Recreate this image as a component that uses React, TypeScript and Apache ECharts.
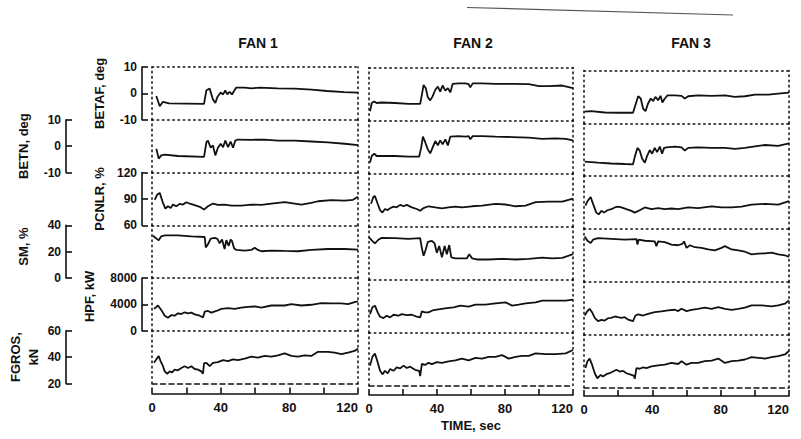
import React, { useEffect, useRef } from 'react';
import * as echarts from 'echarts';

// ---------- data (time in sec, value in axis units) ----------
const fanTitles = ['FAN 1', 'FAN 2', 'FAN 3'];
const timeLabels = [0, 40, 80, 120];

const fan1BETAF: [number, number][] = [[2.5,-1.0],[4.5,-4.9],[6.4,-3.2],[10,-3.8],[20,-3.9],[30.3,-4.0],[31.7,1.2],[33.6,1.8],[35.5,-2.3],[36.9,-3.6],[38.1,-1.4],[40,0.3],[41.4,-0.4],[42.7,1.1],[43.9,-0.4],[45.2,0.6],[46.6,-0.4],[47.8,0.9],[49.1,2.2],[54,2.2],[58,1.9],[63,2.2],[73,1.9],[83,1.8],[93,1.4],[102,0.9],[112,0.5],[120,0.3]];
const fan1BETN: [number, number][] = [[2.5,-1],[3.9,-4.75],[5.4,-3.5],[7.4,-3.25],[15.1,-3.75],[30.3,-4.1],[31.7,1.5],[32.6,2.1],[34.2,-0.6],[35.5,0.25],[36.9,-3.5],[38.4,-0.6],[40,0.9],[41.4,-0.4],[42.7,2.1],[44.3,-0.4],[45.8,1.75],[47.2,-0.6],[48.5,2.1],[50.1,2.5],[57.9,2.4],[65.6,2.5],[73.4,2.1],[83.1,2.1],[92.8,1.75],[102.5,1.4],[112.2,0.9],[120,0.4]];
const fan1PCNLR: [number, number][] = [[1.6,89],[3.1,95],[4.5,96.8],[6.4,85.4],[7.8,79],[9.3,81.6],[10.9,79.7],[12.2,83.5],[14.2,81.6],[16.1,84.3],[18.1,83.5],[20,86.2],[21.9,84.7],[24.9,82.8],[27.8,81],[30.3,77.8],[32.6,81.6],[35.5,84.7],[38.4,83.1],[42.3,83.5],[46.2,82.4],[52,82.4],[57.9,83.5],[63.7,83.1],[69.5,84.7],[77.3,86.2],[83.1,84.7],[87,83.5],[92.8,85.4],[96.7,87.3],[104.5,88.5],[112.2,88.1],[117.1,88.9],[120,92.3]];
const fan1SM: [number, number][] = [[0.6,32],[2.5,30],[3.9,28.7],[5.4,31.6],[7.4,32.3],[15.1,32.3],[22.9,31.6],[30.7,31.1],[31.3,23.2],[32.6,25.6],[34.2,29.9],[36.5,30.4],[38.1,29.7],[39.4,26.3],[40.8,29.2],[42.3,22],[43.3,28.7],[44.7,24.4],[45.8,29.2],[46.6,28],[47.8,22.5],[49.1,21.3],[54,20.8],[57.9,21.3],[59.8,23],[61.7,21.3],[63.7,20.3],[69.5,20.8],[77.3,20.5],[85,20.3],[92.8,21.3],[102.5,22],[112.2,22],[120,21.5]];
const fan1HPF: [number, number][] = [[1.2,3320],[3.5,3830],[5.4,3160],[7.4,2280],[9.3,1970],[11.3,2380],[13.2,2280],[15.1,2640],[17.1,2540],[19,2800],[21,2640],[22.9,2750],[24.9,2490],[27.8,2280],[29.7,2020],[30.7,2900],[32.6,3000],[34.6,2750],[37.5,3000],[40.4,3320],[44.3,3420],[48.2,3320],[52,3520],[55.9,3630],[59.8,3680],[63.7,3520],[69.5,3830],[77.3,3830],[81.2,4040],[87,3830],[92.8,3940],[98.6,4200],[104.5,4140],[110.3,4140],[114.2,4040],[118,4350],[120,4450]];
const fan1FGROS: [number, number][] = [[1.2,35.7],[2.5,38.3],[3.9,40.9],[5,37],[6.4,33.1],[7.4,29.2],[8.9,27.4],[10.3,29.2],[11.7,28.4],[13.2,30.5],[15.1,30],[17.1,31.8],[19,33.1],[21,31.8],[22.9,33.1],[24.9,31],[26.8,30.5],[28.7,29.2],[29.7,27.4],[30.3,35.2],[31.7,35.7],[33.6,33.1],[35.5,35.7],[38.4,36.2],[41.4,37.7],[44.3,37],[47.2,38.3],[50.1,37.7],[54,38.8],[57.9,40.3],[61.7,39.6],[65.6,40.9],[69.5,40.3],[73.4,41.4],[77.3,42.9],[81.2,40.9],[85,40.3],[88.9,41.4],[92.8,40.9],[96.7,44],[102.5,44],[106.4,43.4],[110.3,42.2],[114.2,43.4],[118,44.7],[120,46.6]];

const fan2BETAF: [number, number][] = [[0.6,-6.5],[1.6,-3.4],[3.1,-2.8],[4.5,-3.4],[7.5,-3.2],[15.3,-3.4],[23.2,-3.7],[30.1,-3.7],[31.1,-0.3],[32.1,3.4],[33.4,2.2],[34.6,-1.2],[36,-2.4],[37.4,-0.9],[39,1.6],[40.5,2.8],[41.9,0.9],[43.3,3.2],[44.9,1.3],[46.4,2.2],[47.8,0.6],[49.2,3.8],[52.7,4.0],[56.7,4.0],[58.6,3.7],[59.6,2.5],[61,4.0],[66.5,4.0],[74.4,3.8],[84.2,3.8],[94,3.7],[100,3.0],[105.8,3.0],[113.7,3.2],[120,2.2]];
const fan2BETN: [number, number][] = [[0.6,-5.9],[1.6,-3.4],[3.1,-2.5],[4.5,-3.4],[7.5,-3.4],[15.3,-3.4],[23.2,-3.6],[29.5,-3.6],[30.7,-0.25],[31.7,3.9],[33,1.9],[34.6,-0.9],[36,-2.4],[37.4,-0.25],[39,2.25],[40.5,0.6],[41.9,2.5],[43.3,1],[44.9,2.9],[46.4,0.6],[47.8,3.9],[52.7,4.1],[56.7,3.9],[58.6,4.1],[59.6,2.9],[61,4.1],[66.5,4.1],[74.4,3.9],[84.2,3.75],[94,3.5],[101.9,3.1],[109.8,3.25],[115.7,3.1],[120,2.5]];
const fan2PCNLR: [number, number][] = [[1.2,85.7],[2.6,93.6],[3.5,94.4],[5.1,85.7],[6.5,78.6],[7.9,75.8],[9.4,79.8],[11,78.6],[12.4,80.6],[14.4,82.5],[16.3,81.7],[18.3,84.5],[20.3,82.9],[22.2,84.5],[25.2,81.7],[28.1,79.8],[30.1,77.8],[32.1,80.9],[35,82.9],[39,81.7],[42.9,80.6],[46.8,81.7],[50.8,82.5],[54.7,81.7],[60.6,82.9],[66.5,83.7],[74.4,85.7],[80.3,84.9],[86.2,82.9],[92.1,83.7],[98,87.7],[105.8,88.1],[113.7,88.1],[120,91.6]];
const fan2SM: [number, number][] = [[0,31.9],[1.6,29.5],[3.5,27.2],[5.5,30],[7.5,31.4],[15.3,31.2],[23.2,30.7],[30.1,31.2],[31.1,23.7],[32.1,17.9],[33.4,22.6],[34.6,28.4],[37,29.1],[38.6,27.2],[39.9,20.2],[41.3,25.3],[42.9,16.7],[44.5,25.3],[45.8,19.1],[47.2,26],[48.4,16.7],[50.8,16],[54.7,16],[57.6,16],[59,19.1],[60.6,16],[63.5,15.1],[70.4,15.1],[78.3,15.6],[86.2,15.1],[94,15.6],[101.9,16.5],[107.8,16],[113.7,16.3],[120,19.1]];
const fan2HPF: [number, number][] = [[0.6,2780],[2,3800],[3.5,4050],[5.1,3040],[6.5,2380],[8.5,2180],[10.4,2530],[12.4,2280],[14.4,2680],[17.3,2530],[19.3,2780],[22.2,2630],[25.2,2680],[28.1,2380],[30.1,2280],[31.1,3190],[33,3040],[35,3040],[38,3390],[41.9,3540],[45.8,3690],[49.8,3800],[53.7,4050],[58.6,3900],[62.6,4200],[68.5,4200],[74.4,4400],[80.3,4550],[84.2,4050],[88.1,4200],[92.1,4400],[98,4550],[101.9,4800],[109.8,4800],[115.7,4800],[120,4960]];
const fan2FGROS: [number, number][] = [[0.6,35],[2,41.6],[3.5,44.2],[5.1,37.6],[6.5,31.1],[7.9,28.4],[9.4,31.1],[11,29.2],[12.4,32.4],[14.4,31.1],[16.3,33.7],[18.3,32.9],[20.3,35],[22.2,33.2],[24.2,34.2],[27.1,31.8],[29.5,31.1],[30.1,27.1],[31.1,36.3],[33,35.5],[35,37.1],[37,36.1],[39.9,37.6],[42.9,37.1],[46.8,38.2],[50.8,38.9],[54.7,40.3],[58.6,38.9],[62.6,40.8],[66.5,40.3],[70.4,41.6],[74.4,41.6],[78.3,42.9],[82.2,40.3],[86.2,41.6],[90.1,42.4],[94,42.4],[98,44.2],[103.9,43.7],[109.8,43.7],[115.7,44.2],[120,46.8]];

const fan3BETAF: [number, number][] = [[0.4,-5.6],[4.3,-5.4],[12.1,-5.9],[19.9,-6],[28.7,-6],[30.1,-3.1],[31.7,0.25],[33.2,-0.6],[34.6,-4.4],[36,-5.4],[37.5,-2.5],[39.1,-0.6],[40.5,-1.6],[41.8,0],[43.4,-1.25],[44.8,0.4],[45.9,-2.1],[47.3,-0.6],[48.9,0.6],[53.2,0.6],[57.1,0.4],[59,-0.6],[61,0.25],[66.8,0.6],[74.7,0.4],[82.5,0.6],[88.3,0],[94.2,0.25],[100.1,0.9],[107.9,0.9],[113.7,1.25],[120,1.6]];
const fan3BETN: [number, number][] = [[0.4,-4.5],[8.2,-4.9],[16,-5.2],[23.8,-5.4],[28.7,-5.5],[29.7,-2.7],[31.3,0.7],[32.6,-0.3],[34,-3.3],[35.6,-4.9],[37.1,-2.1],[38.5,-0.1],[39.9,-1.5],[41.4,0.7],[42.8,-0.9],[44.4,1.2],[45.7,-1.5],[46.9,0.7],[48.3,0.9],[53.2,1.2],[57.1,0.9],[59,-0.3],[61,0.7],[66.8,0.9],[74.7,0.7],[82.5,0.7],[88.3,0.3],[94.2,0.7],[100.1,1.3],[105.9,1.8],[113.7,1.5],[120,2.4]];
const fan3PCNLR: [number, number][] = [[0.8,86.5],[2.3,92.4],[3.9,96.4],[5.3,88.5],[7.2,78.6],[8.6,76.6],[10.2,80.6],[11.7,78.6],[13.7,81.3],[16,82.5],[18,84.5],[19.9,85.3],[21.9,84.5],[24.8,82.5],[27.8,80.6],[29.7,78.6],[32.6,81.3],[35.6,84.5],[39.5,82.5],[43.4,83.7],[47.3,82.5],[51.2,83.3],[55.1,82.5],[61,84.5],[66.8,83.7],[74.7,85.7],[80.5,84.5],[86.4,84.5],[92.2,85.3],[98.1,87.7],[105.9,88.5],[113.7,87.7],[120,91.6]];
const fan3SM: [number, number][] = [[0.4,34.3],[2,31.1],[3.9,29.4],[5.3,31.9],[8.2,33.1],[16,32.6],[23.8,31.9],[30.7,32.4],[31.3,28.2],[32,31.9],[35.6,31.1],[41.4,30.6],[42.4,27],[43.4,30.6],[47.3,30.1],[51.2,28.2],[55.1,27.7],[57.5,28.7],[58.6,30.6],[60,25.7],[62,27.7],[64.9,26.2],[68.8,25.7],[72.7,24.5],[76.6,23.8],[80.5,25.7],[82.5,27],[86.4,24.5],[90.3,23.8],[94.2,22.8],[98.1,20.8],[102,21.3],[105.9,21.6],[109.8,22.1],[113.7,20.8],[117.6,20.1],[120,18.9]];
const fan3HPF: [number, number][] = [[0.4,2900],[2,3570],[3.3,3920],[4.7,3410],[6.3,2550],[8.2,2040],[10.2,2240],[12.1,2140],[14.1,2500],[16,2550],[18,2750],[19.9,2650],[21.9,2550],[23.8,2650],[25.8,2290],[28.7,2040],[30.1,2900],[31.7,3060],[34.6,2900],[37.5,3160],[41.4,3410],[45.3,3520],[49.2,3670],[53.2,3770],[55.1,3570],[57.1,3920],[60,3570],[62.9,3770],[66.8,3920],[70.7,4080],[74.7,3920],[78.6,4180],[82.5,3920],[86.4,3770],[90.3,3920],[94.2,4080],[98.1,4430],[104,4430],[109.8,4280],[113.7,4430],[117.6,4690],[120,5200]];
const fan3FGROS: [number, number][] = [[0.8,34.7],[2,39.9],[3.3,41.9],[4.7,37.3],[6.3,30.8],[7.8,27],[9.8,29.5],[11.1,28.3],[13.1,30.1],[15,30.8],[17,32.1],[19,33.4],[20.9,32.1],[22.9,32.6],[24.8,30.8],[27.8,29.5],[29.3,28.8],[29.7,26.5],[30.7,34.7],[32.6,34.2],[34.6,35.2],[36.5,34.7],[39.5,36],[43.4,36.8],[47.3,37.3],[51.2,38.6],[55.1,37.8],[57.1,39.9],[60,37.3],[62.9,38.6],[66.8,38.6],[70.7,39.9],[74.7,40.4],[78.6,41.9],[82.5,38.6],[86.4,39.9],[90.3,40.4],[94.2,41.2],[98.1,43],[102,42.5],[105.9,41.9],[109.8,43],[113.7,43.7],[117.6,45],[120,47.6]];

const fanData = [
  [fan1BETAF, fan1BETN, fan1PCNLR, fan1SM, fan1HPF, fan1FGROS],
  [fan2BETAF, fan2BETN, fan2PCNLR, fan2SM, fan2HPF, fan2FGROS],
  [fan3BETAF, fan3BETN, fan3PCNLR, fan3SM, fan3HPF, fan3FGROS],
];

const paramNames = ['BETAF, deg', 'BETN, deg', 'PCNLR, %', 'SM, %', 'HPF, kW', 'FGROS,\nkN'];
const paramMin = [-10, -10, 60, 0, 0, 20];
const paramMax = [10, 10, 120, 40, 8000, 60];
const paramInterval = [10, 10, 30, 20, 4000, 20];

// ---------- layout ----------
const COL_LEFT = [152, 369, 584];
const COL_RIGHT = [358, 573, 789];
const COL_TOP = [67, 67.5, 70.5];
const COL_BOTTOM = [383.5, 385.5, 387.5];
const AXIS_OFFSET = [10, 9.5, 8.5];
const TITLE_X = [258, 473, 691];
const BRACKET_OFFSET = [10, 86, 10, 86, 10, 86];
const NAME_GAP = [34, 34, 34, 34, 44, 24];
const NAME_PAD = [0, 0, 0, 10, 16, 0];

const INK = '#111';
const FONT = 'Liberation Sans';

export default function App() {
  const ref = useRef<HTMLDivElement>(null);
  useEffect(() => {
    if (!ref.current) return;
    const chart = echarts.init(ref.current, undefined, { renderer: 'svg' });
    const dotted = { color: INK, width: 1.5, type: [1.6, 3.6] as number[] };
    const dashed = { color: INK, width: 1.5, type: [5, 3.5] as number[] };
    const grids: any[] = [];
    const xAxes: any[] = [];
    const yAxes: any[] = [];
    const series: any[] = [];
    const labelStyle = { color: INK, fontFamily: FONT, fontWeight: 'bold', fontSize: 12 };

    fanData.forEach((cols, c) => {
      const h = (COL_BOTTOM[c] - COL_TOP[c]) / 6;
      cols.forEach((data, r) => {
        const gi = grids.length;
        grids.push({ left: COL_LEFT[c], top: COL_TOP[c] + r * h, width: COL_RIGHT[c] - COL_LEFT[c], height: h });
        const base = { type: 'value', gridIndex: gi, min: 0, max: 120, interval: 20, splitLine: { show: false }, axisTick: { show: false }, axisLabel: { show: false } };
        const xi = xAxes.length;
        xAxes.push({ ...base, position: 'bottom', axisLine: { show: true, onZero: false, lineStyle: r === 5 ? dashed : dotted } });
        if (r === 0) xAxes.push({ ...base, position: 'top', axisLine: { show: true, onZero: false, lineStyle: dotted } });
        if (r === 5) {
          xAxes.push({
            ...base,
            position: 'bottom',
            offset: AXIS_OFFSET[c],
            axisLine: { show: true, onZero: false, lineStyle: { color: INK, width: 1.6 } },
            axisTick: { show: true, inside: true, length: 6, lineStyle: { color: INK, width: 1.6 } },
            axisLabel: {
              show: true, margin: 7, ...labelStyle, fontSize: 13, alignMaxLabel: 'right',
              formatter: (v: number) => (timeLabels.includes(v) ? String(v) : ''),
            },
            name: c === 1 ? 'TIME, sec' : '',
            nameLocation: 'middle',
            nameGap: 24,
            nameTextStyle: { ...labelStyle, fontSize: 13 },
          });
        }
        const ybase = { type: 'value', gridIndex: gi, min: paramMin[r], max: paramMax[r], interval: paramInterval[r], splitLine: { show: false } };
        const yi = yAxes.length;
        yAxes.push({ ...ybase, position: 'left', axisLine: { show: true, onZero: false, lineStyle: dotted }, axisTick: { show: false }, axisLabel: { show: false } });
        yAxes.push({ ...ybase, position: 'right', axisLine: { show: true, onZero: false, lineStyle: dotted }, axisTick: { show: false }, axisLabel: { show: false } });
        if (c === 0) {
          yAxes.push({
            ...ybase,
            position: 'left',
            offset: BRACKET_OFFSET[r],
            axisLine: { show: true, onZero: false, lineStyle: { color: INK, width: 1.6 } },
            axisTick: { show: true, inside: true, length: 6, lineStyle: { color: INK, width: 1.6 } },
            axisLabel: { show: true, margin: 5, ...labelStyle, formatter: (v: number) => String(v) },
            name: paramNames[r],
            nameLocation: 'middle',
            nameRotate: 90,
            nameGap: NAME_GAP[r],
            nameTextStyle: { ...labelStyle, fontSize: 13, lineHeight: 18, padding: [0, 0, 0, NAME_PAD[r]] },
          });
        }
        series.push({
          type: 'line', xAxisIndex: xi, yAxisIndex: yi, data, showSymbol: false, silent: true,
          lineStyle: { color: INK, width: 1.8 },
        });
      });
    });

    chart.setOption({
      animation: false,
      backgroundColor: '#fff',
      grid: grids,
      xAxis: xAxes,
      yAxis: yAxes,
      series,
      graphic: [
        ...fanTitles.map((t, i) => ({
          type: 'text', x: TITLE_X[i], y: 43,
          style: { text: t, align: 'center', verticalAlign: 'middle', fontFamily: FONT, fontWeight: 'bold', fontSize: 14, fill: INK },
        })),
        { type: 'line', shape: { x1: 467, y1: 7.5, x2: 733, y2: 15 }, style: { stroke: '#555', lineWidth: 1.2 } },
      ],
    });
    return () => chart.dispose();
  }, []);
  return <div ref={ref} style={{ position: 'absolute', left: 0, top: 0, width: 801, height: 439 }} />;
}
